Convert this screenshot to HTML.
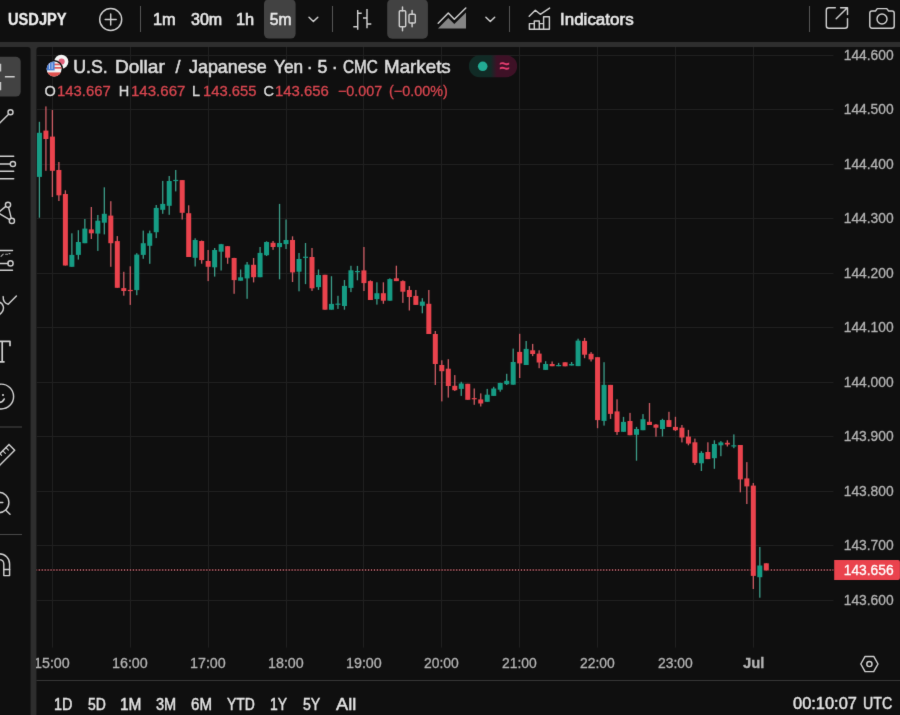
<!DOCTYPE html>
<html lang="en"><head><meta charset="utf-8"><title>USDJPY chart</title>
<style>
html,body{margin:0;padding:0;background:#0f0f0f;width:900px;height:715px;overflow:hidden;}
body{width:900px;height:715px;position:relative;overflow:hidden;font-family:"Liberation Sans", sans-serif;}
#root{position:absolute;left:0;top:0;width:900px;height:715px;overflow:hidden;}
#w{position:absolute;left:-8px;top:-8px;width:916px;height:731px;overflow:hidden;filter:url(#soft);background:#0f0f0f;}
#c{position:absolute;left:8px;top:8px;width:900px;height:715px;}
.t{position:absolute;white-space:pre;line-height:1;transform-origin:0 0;font-family:"Liberation Sans", sans-serif;-webkit-text-stroke:0.3px currentColor;}
</style></head>
<body>
<div id="root">
<svg width="0" height="0" style="position:absolute"><filter id="soft" x="0" y="0" width="100%" height="100%" color-interpolation-filters="sRGB"><feConvolveMatrix order="3" kernelMatrix="0.00741 0.07126 0.00741 0.07126 0.68530 0.07126 0.00741 0.07126 0.00741" edgeMode="duplicate" preserveAlpha="true"/></filter></svg>
<div id="w"><div id="c">
<svg width="900" height="715" viewBox="0 0 900 715" style="position:absolute;left:0;top:0;overflow:visible">
<rect x="-8" y="-8" width="916" height="731" fill="#2e2e2e"/>
<rect x="-8" y="-8" width="916" height="50" fill="#0f0f0f"/>
<path d="M-8 47.1H27.6a3 3 0 0 1 3 3V723H-8Z" fill="#0f0f0f"/>
<path d="M39.4 47.1H908V723H36.4V50.1a3 3 0 0 1 3-3Z" fill="#0f0f0f"/>
<rect x="264" y="-1" width="31.6" height="39.6" rx="5" fill="#424242"/>
<rect x="387.2" y="-1" width="40.7" height="39.8" rx="5" fill="#424242"/>
<rect x="-20" y="56.8" width="40.7" height="39.8" rx="5" fill="#424242"/>
<rect x="140" y="6" width="1" height="26" fill="#555555"/>
<rect x="332" y="6" width="1" height="26" fill="#555555"/>
<rect x="509" y="6" width="1" height="26" fill="#555555"/>
<rect x="809" y="6" width="1" height="26" fill="#555555"/>
<rect x="36.4" y="680" width="872" height="1" fill="#363636"/>
<rect x="-8" y="426.5" width="30" height="1" fill="#484848"/>
<rect x="-8" y="534" width="30" height="1" fill="#484848"/>
<rect x="36.4" y="55.00" width="797" height="1" fill="#202020"/>
<rect x="36.4" y="109.00" width="797" height="1" fill="#202020"/>
<rect x="36.4" y="164.00" width="797" height="1" fill="#202020"/>
<rect x="36.4" y="218.00" width="797" height="1" fill="#202020"/>
<rect x="36.4" y="273.00" width="797" height="1" fill="#202020"/>
<rect x="36.4" y="327.00" width="797" height="1" fill="#202020"/>
<rect x="36.4" y="382.00" width="797" height="1" fill="#202020"/>
<rect x="36.4" y="436.00" width="797" height="1" fill="#202020"/>
<rect x="36.4" y="491.00" width="797" height="1" fill="#202020"/>
<rect x="36.4" y="545.00" width="797" height="1" fill="#202020"/>
<rect x="36.4" y="600.00" width="797" height="1" fill="#202020"/>
<rect x="52.00" y="47" width="1" height="600.5" fill="#202020"/>
<rect x="130.00" y="47" width="1" height="600.5" fill="#202020"/>
<rect x="208.00" y="47" width="1" height="600.5" fill="#202020"/>
<rect x="286.00" y="47" width="1" height="600.5" fill="#202020"/>
<rect x="363.00" y="47" width="1" height="600.5" fill="#202020"/>
<rect x="441.00" y="47" width="1" height="600.5" fill="#202020"/>
<rect x="519.00" y="47" width="1" height="600.5" fill="#202020"/>
<rect x="597.00" y="47" width="1" height="600.5" fill="#202020"/>
<rect x="675.00" y="47" width="1" height="600.5" fill="#202020"/>
<rect x="753.00" y="47" width="1" height="600.5" fill="#202020"/>
<rect x="38.77" y="121.8" width="1.3" height="95.9" fill="#3c9c88"/>
<rect x="36.92" y="132.8" width="5.0" height="44.1" fill="#169c84"/>
<rect x="45.26" y="106.4" width="1.3" height="64.4" fill="#cc5c64"/>
<rect x="43.41" y="130.6" width="5.0" height="8.4" fill="#ea434d"/>
<rect x="51.75" y="110.0" width="1.3" height="87.0" fill="#cc5c64"/>
<rect x="49.90" y="136.6" width="5.0" height="34.2" fill="#ea434d"/>
<rect x="58.24" y="162.0" width="1.3" height="39.0" fill="#cc5c64"/>
<rect x="56.39" y="170.0" width="5.0" height="25.3" fill="#ea434d"/>
<rect x="64.73" y="190.3" width="1.3" height="75.2" fill="#cc5c64"/>
<rect x="62.88" y="194.0" width="5.0" height="71.5" fill="#ea434d"/>
<rect x="71.22" y="233.3" width="1.3" height="33.5" fill="#3c9c88"/>
<rect x="69.37" y="254.9" width="5.0" height="11.9" fill="#169c84"/>
<rect x="77.71" y="230.2" width="1.3" height="29.4" fill="#3c9c88"/>
<rect x="75.86" y="242.0" width="5.0" height="12.9" fill="#169c84"/>
<rect x="84.20" y="219.0" width="1.3" height="24.2" fill="#3c9c88"/>
<rect x="82.35" y="228.6" width="5.0" height="14.6" fill="#169c84"/>
<rect x="90.69" y="207.0" width="1.3" height="32.0" fill="#cc5c64"/>
<rect x="88.84" y="229.4" width="5.0" height="3.9" fill="#ea434d"/>
<rect x="97.18" y="215.0" width="1.3" height="35.9" fill="#3c9c88"/>
<rect x="95.33" y="220.7" width="5.0" height="12.9" fill="#169c84"/>
<rect x="103.67" y="187.3" width="1.3" height="47.1" fill="#3c9c88"/>
<rect x="101.82" y="213.8" width="5.0" height="8.9" fill="#169c84"/>
<rect x="110.16" y="201.2" width="1.3" height="65.6" fill="#cc5c64"/>
<rect x="108.31" y="215.6" width="5.0" height="27.6" fill="#ea434d"/>
<rect x="116.65" y="236.1" width="1.3" height="51.7" fill="#cc5c64"/>
<rect x="114.80" y="241.1" width="5.0" height="46.7" fill="#ea434d"/>
<rect x="123.14" y="271.8" width="1.3" height="23.9" fill="#cc5c64"/>
<rect x="121.29" y="288.1" width="5.0" height="2.9" fill="#ea434d"/>
<rect x="129.63" y="266.3" width="1.3" height="38.6" fill="#cc5c64"/>
<rect x="127.78" y="289.9" width="5.0" height="1.2" fill="#ea434d"/>
<rect x="136.12" y="253.2" width="1.3" height="42.0" fill="#3c9c88"/>
<rect x="134.27" y="254.6" width="5.0" height="35.5" fill="#169c84"/>
<rect x="142.61" y="230.6" width="1.3" height="28.2" fill="#3c9c88"/>
<rect x="140.76" y="243.2" width="5.0" height="11.7" fill="#169c84"/>
<rect x="149.10" y="230.6" width="1.3" height="33.2" fill="#3c9c88"/>
<rect x="147.25" y="233.3" width="5.0" height="12.5" fill="#169c84"/>
<rect x="155.59" y="205.0" width="1.3" height="33.1" fill="#3c9c88"/>
<rect x="153.74" y="207.9" width="5.0" height="24.3" fill="#169c84"/>
<rect x="162.08" y="180.9" width="1.3" height="32.9" fill="#3c9c88"/>
<rect x="160.23" y="203.9" width="5.0" height="5.9" fill="#169c84"/>
<rect x="168.57" y="176.0" width="1.3" height="38.8" fill="#3c9c88"/>
<rect x="166.72" y="181.0" width="5.0" height="24.8" fill="#169c84"/>
<rect x="175.06" y="170.0" width="1.3" height="21.4" fill="#3c9c88"/>
<rect x="173.21" y="179.9" width="5.0" height="1.2" fill="#169c84"/>
<rect x="181.55" y="180.1" width="1.3" height="39.4" fill="#cc5c64"/>
<rect x="179.70" y="180.1" width="5.0" height="32.7" fill="#ea434d"/>
<rect x="188.04" y="205.3" width="1.3" height="51.7" fill="#cc5c64"/>
<rect x="186.19" y="213.2" width="5.0" height="43.8" fill="#ea434d"/>
<rect x="194.53" y="238.3" width="1.3" height="28.2" fill="#3c9c88"/>
<rect x="192.68" y="240.0" width="5.0" height="17.8" fill="#169c84"/>
<rect x="201.02" y="240.5" width="1.3" height="23.2" fill="#cc5c64"/>
<rect x="199.17" y="241.0" width="5.0" height="19.1" fill="#ea434d"/>
<rect x="207.51" y="250.0" width="1.3" height="31.1" fill="#cc5c64"/>
<rect x="205.66" y="261.0" width="5.0" height="5.8" fill="#ea434d"/>
<rect x="214.00" y="248.0" width="1.3" height="28.6" fill="#3c9c88"/>
<rect x="212.15" y="250.0" width="5.0" height="17.3" fill="#169c84"/>
<rect x="220.49" y="243.9" width="1.3" height="26.6" fill="#3c9c88"/>
<rect x="218.64" y="244.2" width="5.0" height="7.5" fill="#169c84"/>
<rect x="226.98" y="246.0" width="1.3" height="17.8" fill="#cc5c64"/>
<rect x="225.13" y="246.2" width="5.0" height="11.5" fill="#ea434d"/>
<rect x="233.47" y="257.8" width="1.3" height="36.0" fill="#cc5c64"/>
<rect x="231.62" y="258.0" width="5.0" height="22.1" fill="#ea434d"/>
<rect x="239.96" y="269.5" width="1.3" height="11.2" fill="#3c9c88"/>
<rect x="238.11" y="277.3" width="5.0" height="3.4" fill="#169c84"/>
<rect x="246.45" y="262.0" width="1.3" height="36.8" fill="#3c9c88"/>
<rect x="244.60" y="264.6" width="5.0" height="13.8" fill="#169c84"/>
<rect x="252.94" y="258.0" width="1.3" height="24.4" fill="#cc5c64"/>
<rect x="251.09" y="264.8" width="5.0" height="12.4" fill="#ea434d"/>
<rect x="259.43" y="247.0" width="1.3" height="30.2" fill="#3c9c88"/>
<rect x="257.58" y="252.9" width="5.0" height="24.3" fill="#169c84"/>
<rect x="265.92" y="241.3" width="1.3" height="14.7" fill="#3c9c88"/>
<rect x="264.07" y="242.0" width="5.0" height="13.2" fill="#169c84"/>
<rect x="272.41" y="241.0" width="1.3" height="8.8" fill="#cc5c64"/>
<rect x="270.56" y="242.8" width="5.0" height="4.2" fill="#ea434d"/>
<rect x="278.90" y="203.9" width="1.3" height="75.4" fill="#3c9c88"/>
<rect x="277.05" y="243.0" width="5.0" height="4.1" fill="#169c84"/>
<rect x="285.39" y="219.5" width="1.3" height="29.5" fill="#3c9c88"/>
<rect x="283.54" y="240.0" width="5.0" height="4.1" fill="#169c84"/>
<rect x="291.88" y="236.3" width="1.3" height="45.7" fill="#cc5c64"/>
<rect x="290.03" y="240.0" width="5.0" height="32.4" fill="#ea434d"/>
<rect x="298.37" y="253.0" width="1.3" height="38.3" fill="#3c9c88"/>
<rect x="296.52" y="259.0" width="5.0" height="12.7" fill="#169c84"/>
<rect x="304.86" y="243.0" width="1.3" height="41.1" fill="#3c9c88"/>
<rect x="303.01" y="256.7" width="5.0" height="1.2" fill="#169c84"/>
<rect x="311.35" y="248.0" width="1.3" height="42.9" fill="#cc5c64"/>
<rect x="309.50" y="257.0" width="5.0" height="31.3" fill="#ea434d"/>
<rect x="317.84" y="269.5" width="1.3" height="20.4" fill="#3c9c88"/>
<rect x="315.99" y="275.0" width="5.0" height="12.1" fill="#169c84"/>
<rect x="324.33" y="274.8" width="1.3" height="34.9" fill="#cc5c64"/>
<rect x="322.48" y="274.8" width="5.0" height="34.9" fill="#ea434d"/>
<rect x="330.82" y="276.2" width="1.3" height="33.5" fill="#3c9c88"/>
<rect x="328.97" y="303.9" width="5.0" height="5.8" fill="#169c84"/>
<rect x="337.31" y="295.8" width="1.3" height="13.1" fill="#3c9c88"/>
<rect x="335.46" y="303.6" width="5.0" height="1.2" fill="#169c84"/>
<rect x="343.80" y="280.0" width="1.3" height="29.7" fill="#3c9c88"/>
<rect x="341.95" y="285.9" width="5.0" height="20.1" fill="#169c84"/>
<rect x="350.29" y="265.8" width="1.3" height="26.3" fill="#3c9c88"/>
<rect x="348.44" y="270.3" width="5.0" height="17.6" fill="#169c84"/>
<rect x="356.78" y="265.9" width="1.3" height="14.4" fill="#3c9c88"/>
<rect x="354.93" y="271.0" width="5.0" height="1.2" fill="#169c84"/>
<rect x="363.27" y="247.0" width="1.3" height="44.0" fill="#cc5c64"/>
<rect x="361.42" y="270.4" width="5.0" height="12.7" fill="#ea434d"/>
<rect x="369.76" y="280.3" width="1.3" height="19.7" fill="#cc5c64"/>
<rect x="367.91" y="281.1" width="5.0" height="18.9" fill="#ea434d"/>
<rect x="376.25" y="282.3" width="1.3" height="22.3" fill="#3c9c88"/>
<rect x="374.40" y="293.2" width="5.0" height="5.9" fill="#169c84"/>
<rect x="382.74" y="282.3" width="1.3" height="21.5" fill="#cc5c64"/>
<rect x="380.89" y="293.2" width="5.0" height="7.5" fill="#ea434d"/>
<rect x="389.23" y="278.3" width="1.3" height="22.4" fill="#3c9c88"/>
<rect x="387.38" y="279.1" width="5.0" height="21.6" fill="#169c84"/>
<rect x="395.72" y="265.7" width="1.3" height="15.4" fill="#cc5c64"/>
<rect x="393.87" y="278.3" width="5.0" height="2.8" fill="#ea434d"/>
<rect x="402.21" y="280.3" width="1.3" height="22.6" fill="#cc5c64"/>
<rect x="400.36" y="281.1" width="5.0" height="10.6" fill="#ea434d"/>
<rect x="408.70" y="286.1" width="1.3" height="24.4" fill="#cc5c64"/>
<rect x="406.85" y="290.0" width="5.0" height="7.0" fill="#ea434d"/>
<rect x="415.19" y="290.0" width="1.3" height="14.9" fill="#cc5c64"/>
<rect x="413.34" y="295.9" width="5.0" height="9.0" fill="#ea434d"/>
<rect x="421.68" y="298.2" width="1.3" height="15.1" fill="#3c9c88"/>
<rect x="419.83" y="301.6" width="5.0" height="4.2" fill="#169c84"/>
<rect x="428.17" y="290.0" width="1.3" height="44.0" fill="#cc5c64"/>
<rect x="426.32" y="303.8" width="5.0" height="30.2" fill="#ea434d"/>
<rect x="434.66" y="331.0" width="1.3" height="54.0" fill="#cc5c64"/>
<rect x="432.81" y="334.0" width="5.0" height="30.0" fill="#ea434d"/>
<rect x="441.15" y="360.3" width="1.3" height="41.1" fill="#cc5c64"/>
<rect x="439.30" y="365.0" width="5.0" height="6.2" fill="#ea434d"/>
<rect x="447.64" y="359.2" width="1.3" height="38.4" fill="#cc5c64"/>
<rect x="445.79" y="368.7" width="5.0" height="17.3" fill="#ea434d"/>
<rect x="454.13" y="375.1" width="1.3" height="15.9" fill="#cc5c64"/>
<rect x="452.28" y="385.8" width="5.0" height="4.4" fill="#ea434d"/>
<rect x="460.62" y="381.8" width="1.3" height="14.1" fill="#3c9c88"/>
<rect x="458.77" y="383.5" width="5.0" height="5.4" fill="#169c84"/>
<rect x="467.11" y="383.8" width="1.3" height="16.0" fill="#cc5c64"/>
<rect x="465.26" y="383.8" width="5.0" height="16.0" fill="#ea434d"/>
<rect x="473.60" y="388.5" width="1.3" height="16.3" fill="#cc5c64"/>
<rect x="471.75" y="398.1" width="5.0" height="1.2" fill="#ea434d"/>
<rect x="480.09" y="393.4" width="1.3" height="13.1" fill="#cc5c64"/>
<rect x="478.24" y="399.4" width="5.0" height="4.1" fill="#ea434d"/>
<rect x="486.58" y="388.9" width="1.3" height="12.9" fill="#3c9c88"/>
<rect x="484.73" y="394.7" width="5.0" height="7.1" fill="#169c84"/>
<rect x="493.07" y="386.8" width="1.3" height="9.1" fill="#3c9c88"/>
<rect x="491.22" y="388.5" width="5.0" height="7.4" fill="#169c84"/>
<rect x="499.56" y="382.7" width="1.3" height="9.0" fill="#3c9c88"/>
<rect x="497.71" y="383.0" width="5.0" height="6.7" fill="#169c84"/>
<rect x="506.05" y="373.8" width="1.3" height="11.2" fill="#3c9c88"/>
<rect x="504.20" y="380.8" width="5.0" height="3.4" fill="#169c84"/>
<rect x="512.54" y="348.6" width="1.3" height="36.1" fill="#3c9c88"/>
<rect x="510.69" y="362.0" width="5.0" height="22.7" fill="#169c84"/>
<rect x="519.03" y="333.8" width="1.3" height="44.2" fill="#cc5c64"/>
<rect x="517.18" y="351.9" width="5.0" height="11.5" fill="#ea434d"/>
<rect x="525.52" y="341.0" width="1.3" height="24.0" fill="#3c9c88"/>
<rect x="523.67" y="348.9" width="5.0" height="16.1" fill="#169c84"/>
<rect x="532.01" y="343.9" width="1.3" height="12.2" fill="#cc5c64"/>
<rect x="530.16" y="350.3" width="5.0" height="3.7" fill="#ea434d"/>
<rect x="538.50" y="350.3" width="1.3" height="17.9" fill="#cc5c64"/>
<rect x="536.65" y="353.6" width="5.0" height="8.9" fill="#ea434d"/>
<rect x="544.99" y="361.2" width="1.3" height="8.7" fill="#3c9c88"/>
<rect x="543.14" y="364.0" width="5.0" height="5.9" fill="#169c84"/>
<rect x="551.48" y="361.5" width="1.3" height="4.7" fill="#cc5c64"/>
<rect x="549.63" y="364.0" width="5.0" height="2.2" fill="#ea434d"/>
<rect x="557.97" y="362.9" width="1.3" height="3.3" fill="#3c9c88"/>
<rect x="556.12" y="365.0" width="5.0" height="1.2" fill="#169c84"/>
<rect x="564.46" y="362.3" width="1.3" height="4.0" fill="#cc5c64"/>
<rect x="562.61" y="362.3" width="5.0" height="4.0" fill="#ea434d"/>
<rect x="570.95" y="362.0" width="1.3" height="3.5" fill="#3c9c88"/>
<rect x="569.10" y="364.0" width="5.0" height="1.5" fill="#169c84"/>
<rect x="577.44" y="338.7" width="1.3" height="27.4" fill="#3c9c88"/>
<rect x="575.59" y="340.6" width="5.0" height="25.5" fill="#169c84"/>
<rect x="583.93" y="337.9" width="1.3" height="20.3" fill="#cc5c64"/>
<rect x="582.08" y="340.9" width="5.0" height="13.8" fill="#ea434d"/>
<rect x="590.42" y="352.1" width="1.3" height="9.4" fill="#cc5c64"/>
<rect x="588.57" y="353.8" width="5.0" height="5.6" fill="#ea434d"/>
<rect x="596.91" y="357.2" width="1.3" height="71.0" fill="#cc5c64"/>
<rect x="595.06" y="357.2" width="5.0" height="62.9" fill="#ea434d"/>
<rect x="603.40" y="362.2" width="1.3" height="63.4" fill="#3c9c88"/>
<rect x="601.55" y="384.9" width="5.0" height="36.0" fill="#169c84"/>
<rect x="609.89" y="384.9" width="1.3" height="34.0" fill="#cc5c64"/>
<rect x="608.04" y="384.9" width="5.0" height="29.0" fill="#ea434d"/>
<rect x="616.38" y="399.3" width="1.3" height="35.6" fill="#cc5c64"/>
<rect x="614.53" y="411.4" width="5.0" height="20.6" fill="#ea434d"/>
<rect x="622.87" y="416.9" width="1.3" height="14.9" fill="#3c9c88"/>
<rect x="621.02" y="421.9" width="5.0" height="9.9" fill="#169c84"/>
<rect x="629.36" y="412.9" width="1.3" height="22.3" fill="#cc5c64"/>
<rect x="627.51" y="421.0" width="5.0" height="14.2" fill="#ea434d"/>
<rect x="635.85" y="426.9" width="1.3" height="33.8" fill="#3c9c88"/>
<rect x="634.00" y="429.0" width="5.0" height="5.8" fill="#169c84"/>
<rect x="642.34" y="414.1" width="1.3" height="16.1" fill="#3c9c88"/>
<rect x="640.49" y="419.2" width="5.0" height="11.0" fill="#169c84"/>
<rect x="648.83" y="403.0" width="1.3" height="22.0" fill="#cc5c64"/>
<rect x="646.98" y="421.8" width="5.0" height="3.2" fill="#ea434d"/>
<rect x="655.32" y="424.0" width="1.3" height="12.7" fill="#cc5c64"/>
<rect x="653.47" y="424.6" width="5.0" height="3.1" fill="#ea434d"/>
<rect x="661.81" y="418.8" width="1.3" height="17.7" fill="#3c9c88"/>
<rect x="659.96" y="420.0" width="5.0" height="9.0" fill="#169c84"/>
<rect x="668.30" y="411.8" width="1.3" height="15.1" fill="#cc5c64"/>
<rect x="666.45" y="420.1" width="5.0" height="6.8" fill="#ea434d"/>
<rect x="674.79" y="416.8" width="1.3" height="14.2" fill="#cc5c64"/>
<rect x="672.94" y="426.9" width="5.0" height="3.3" fill="#ea434d"/>
<rect x="681.28" y="425.0" width="1.3" height="17.4" fill="#cc5c64"/>
<rect x="679.43" y="427.7" width="5.0" height="9.8" fill="#ea434d"/>
<rect x="687.77" y="429.9" width="1.3" height="15.4" fill="#cc5c64"/>
<rect x="685.92" y="436.6" width="5.0" height="7.0" fill="#ea434d"/>
<rect x="694.26" y="438.6" width="1.3" height="26.3" fill="#cc5c64"/>
<rect x="692.41" y="442.3" width="5.0" height="20.6" fill="#ea434d"/>
<rect x="700.75" y="451.2" width="1.3" height="19.8" fill="#3c9c88"/>
<rect x="698.90" y="452.9" width="5.0" height="10.4" fill="#169c84"/>
<rect x="707.24" y="442.3" width="1.3" height="16.8" fill="#cc5c64"/>
<rect x="705.39" y="452.0" width="5.0" height="7.1" fill="#ea434d"/>
<rect x="713.73" y="440.3" width="1.3" height="28.5" fill="#3c9c88"/>
<rect x="711.88" y="444.0" width="5.0" height="14.2" fill="#169c84"/>
<rect x="720.22" y="441.1" width="1.3" height="15.1" fill="#3c9c88"/>
<rect x="718.37" y="442.4" width="5.0" height="2.9" fill="#169c84"/>
<rect x="726.71" y="440.3" width="1.3" height="6.2" fill="#cc5c64"/>
<rect x="724.86" y="442.8" width="5.0" height="1.7" fill="#ea434d"/>
<rect x="733.20" y="434.4" width="1.3" height="13.8" fill="#3c9c88"/>
<rect x="731.35" y="445.3" width="5.0" height="1.2" fill="#169c84"/>
<rect x="739.69" y="445.0" width="1.3" height="47.3" fill="#cc5c64"/>
<rect x="737.84" y="445.0" width="5.0" height="34.4" fill="#ea434d"/>
<rect x="746.18" y="462.1" width="1.3" height="41.9" fill="#cc5c64"/>
<rect x="744.33" y="478.4" width="5.0" height="8.0" fill="#ea434d"/>
<rect x="752.67" y="483.0" width="1.3" height="106.0" fill="#cc5c64"/>
<rect x="750.82" y="485.6" width="5.0" height="90.3" fill="#ea434d"/>
<rect x="759.16" y="547.0" width="1.3" height="50.7" fill="#3c9c88"/>
<rect x="757.31" y="565.5" width="5.0" height="11.7" fill="#169c84"/>
<rect x="765.65" y="563.3" width="1.3" height="7.2" fill="#cc5c64"/>
<rect x="763.80" y="563.3" width="5.0" height="7.2" fill="#ea434d"/>
<path d="M834.2 559.9H898a2 2 0 0 1 2 2V578.1a2 2 0 0 1-2 2H834.2Z" fill="#ea434d"/>
<g fill="none" stroke="#cfcfcf" stroke-width="1.45" stroke-linecap="round" stroke-linejoin="round">
<!-- circle plus -->
<circle cx="110.7" cy="19.5" r="11"/>
<path d="M105.2 19.5H116.2M110.7 14V25"/>
<!-- chevrons -->
<path d="M309 17.2L313.4 21.5L317.8 17.2"/>
<path d="M485.9 17.2L490.3 21.5L494.7 17.2"/>
<!-- bars -->
<path d="M357.7 10V29.7M357.7 13.3H361.7M353.3 26.7H357.7M367 9V28.3M363 18H367M367 24H371.3" stroke-linecap="butt"/>
<!-- candles -->
<rect x="399.3" y="10.7" width="6.4" height="16" rx="1"/>
<path d="M402.5 6.9V10.7M402.5 26.7V30.8"/>
<rect x="409" y="14.3" width="6.3" height="8.7" rx="1"/>
<path d="M412.1 10.5V14.3M412.1 23V26.8"/>
<!-- area -->
<path d="M438.2 23.2L448.3 13.1L454.3 19.2L465.8 8.1"/>
<path d="M438 28.6L448.3 18.1L454.3 23.9L466 12.6V28.6Z" fill="#9a9a9a" stroke="none" opacity="0.85"/>
<!-- indicators -->
<path d="M529.2 16.3L535.3 10.2L540.3 14.3L549.6 8.1"/>
<path d="M529.4 29.2V23.6H534.3V20.9H539.3V23.6H543.6V16.8H549.4V29.2ZM534.3 23.6V29.2M539.3 23.6V29.2M543.6 23.6V29.2"/>
<!-- popup -->
<path d="M835.3 7.7H828.8a2.5 2.5 0 0 0-2.5 2.5V25.8a2.5 2.5 0 0 0 2.5 2.5H845a2.5 2.5 0 0 0 2.5-2.5V18.6"/>
<path d="M836.2 18.8L847.3 7.8M840.6 7.7H847.5V14.4"/>
<!-- camera -->
<path d="M872 11H875.5L877.3 8.6H886.8L888.6 11H892a2.2 2.2 0 0 1 2.2 2.2V26a2.2 2.2 0 0 1-2.2 2.2H872a2.2 2.2 0 0 1-2.2-2.2V13.2A2.2 2.2 0 0 1 872 11Z"/>
<circle cx="882" cy="19" r="5"/>
<!-- settings hexagon -->
<path d="M860.8 664L865.1 656.4H873.7L878 664L873.7 671.6H865.1Z"/>
<circle cx="869.4" cy="664" r="2.6"/>
<!-- left toolbar: crosshair -->
<path d="M4.9 76.8H14.7M0.4 63.8V71.5M0.4 82V90.3" stroke-width="1.6" stroke-linecap="butt"/>
<!-- trend line -->
<circle cx="10.5" cy="112.3" r="2.5"/>
<path d="M8.6 114.2L-6 128.8"/>
<!-- fib -->
<path d="M-6 156.3H13.7M-6 164H10.3M-6 171.3H13.7M-6 178.7H13.7"/>
<circle cx="12.9" cy="164" r="2.6"/>
<!-- pattern -->
<circle cx="8" cy="204.8" r="2.6"/>
<circle cx="11.9" cy="220.9" r="2.6"/>
<path d="M8.6 207.4L11.3 218.3M5.8 206.4L-1 212M9.6 219.6L-1 213.5"/>
<!-- forecast -->
<path d="M-6 250.5H12.5M-6 263.4H8M-6 270.3H12.5"/>
<path d="M1 256.4L3.2 254.2M5.6 254.2L7.6 254.2" stroke-width="1.1" opacity="0.8"/>
<path d="M9 253.6L10 253.6" stroke-width="1.1" opacity="0.8"/>
<circle cx="10.5" cy="263.4" r="2.6"/>
<!-- brush -->
<path d="M3.2 296.6C3 300.5 5 303.4 8.2 304.2L16.4 296"/>
<path d="M-1 302C3.5 303.5 5 308.5 1.6 312.6L-1 315"/>
<!-- text T -->
<path d="M-6 341.4H10V346.3M2.2 341.4V361.8M-6 361.8H4.6" stroke-width="1.7" stroke-linecap="butt"/>
<!-- smiley -->
<circle cx="1.2" cy="396.5" r="12.4"/>
<circle cx="3" cy="395" r="1.1" fill="#cfcfcf" stroke="none"/>
<path d="M-1 402.6C1.5 402.4 3.4 401 4.3 398.9"/>
<!-- ruler -->
<path d="M9 444.6L14.7 450.2L-6 471M9 444.6L-6 459.6"/>
<path d="M2.8 450.8L5.4 453.4M5.9 447.7L8.4 450.2M0 453.7L1.6 455.3" stroke-width="1.1"/>
<!-- zoom -->
<circle cx="-1.3" cy="502.5" r="10.2"/>
<path d="M5.6 510L10 514.2M-6 502.5H2.8"/>
<!-- magnet -->
<path d="M-1 553.8C5.2 553.8 9.6 558 9.6 564V575.6H3.8V564C3.8 561.4 2 559.6 -1 559.6"/>
<path d="M3.8 569.4H9.6"/>
</g>
<!-- flags -->
<g>
<circle cx="61.3" cy="61.8" r="7.1" fill="#f4f4f4"/>
<circle cx="61.6" cy="61.5" r="3.1" fill="#e0607a"/>
<circle cx="54.1" cy="69" r="9" fill="#0f0f0f"/>
<clipPath id="usc"><circle cx="54.1" cy="69" r="7.5"/></clipPath>
<g clip-path="url(#usc)">
<rect x="46" y="61" width="17" height="17" fill="#f2f2f2"/>
<rect x="46" y="63.6" width="17" height="1.7" fill="#e05a5a"/>
<rect x="46" y="67" width="17" height="1.7" fill="#e05a5a"/>
<rect x="46" y="72.4" width="17" height="5" fill="#e0524f"/>
<rect x="46" y="61" width="8.6" height="9.4" fill="#4a7fd6"/>
<rect x="49" y="62.5" width="1" height="6.5" fill="#cfe0f7" opacity="0.8"/>
<rect x="51.6" y="62.5" width="1" height="6.5" fill="#cfe0f7" opacity="0.8"/>
</g>
</g>
<!-- status pill -->
<g>
<clipPath id="pill"><rect x="468.8" y="55.2" width="48.4" height="22" rx="11"/></clipPath>
<g clip-path="url(#pill)">
<linearGradient id="pg" x1="0" x2="1" y1="0" y2="0"><stop offset="0" stop-color="#112b26"/><stop offset="0.45" stop-color="#112b26"/><stop offset="0.58" stop-color="#3e1126"/><stop offset="1" stop-color="#3e1126"/></linearGradient>
<rect x="468.8" y="55" width="48.4" height="23" fill="url(#pg)"/>
</g>
<circle cx="482.7" cy="66.3" r="4.8" fill="#22ab94"/>
</g>

</svg>
<div class="t" style="left:8.14px;top:11.99px;font-size:15.6px;color:#ececec;transform:scaleX(0.9384);font-weight:700;-webkit-text-stroke-width:0.3px">USDJPY</div>
<div class="t" style="left:153.47px;top:11.99px;font-size:15.6px;color:#e6e6e6;transform:scaleX(1.0458);-webkit-text-stroke-width:0.6px">1m</div>
<div class="t" style="left:190.91px;top:11.99px;font-size:15.6px;color:#e6e6e6;transform:scaleX(1.0286);-webkit-text-stroke-width:0.6px">30m</div>
<div class="t" style="left:236.16px;top:11.99px;font-size:15.6px;color:#e6e6e6;transform:scaleX(1.0509);-webkit-text-stroke-width:0.6px">1h</div>
<div class="t" style="left:269.80px;top:11.99px;font-size:15.6px;color:#e6e6e6;-webkit-text-stroke-width:0.6px">5m</div>
<div class="t" style="left:559.84px;top:11.99px;font-size:15.6px;color:#e6e6e6;transform:scaleX(1.0889);-webkit-text-stroke-width:0.6px">Indicators</div>
<div class="t" style="left:73.17px;top:58.63px;font-size:17.8px;color:#dbdbdb;-webkit-text-stroke-width:0.55px">U.S.</div>
<div class="t" style="left:115.12px;top:58.63px;font-size:17.8px;color:#dbdbdb;transform:scaleX(1.0723);-webkit-text-stroke-width:0.55px">Dollar</div>
<div class="t" style="left:175.50px;top:58.63px;font-size:17.8px;color:#dbdbdb;-webkit-text-stroke-width:0.55px">/</div>
<div class="t" style="left:188.68px;top:58.63px;font-size:17.8px;color:#dbdbdb;transform:scaleX(1.0067);-webkit-text-stroke-width:0.55px">Japanese</div>
<div class="t" style="left:273.67px;top:58.63px;font-size:17.8px;color:#dbdbdb;transform:scaleX(0.9674);-webkit-text-stroke-width:0.55px">Yen</div>
<div class="t" style="left:306.80px;top:58.63px;font-size:17.8px;color:#dbdbdb;-webkit-text-stroke-width:0.55px">·</div>
<div class="t" style="left:317.40px;top:58.63px;font-size:17.8px;color:#dbdbdb;-webkit-text-stroke-width:0.55px">5</div>
<div class="t" style="left:331.70px;top:58.63px;font-size:17.8px;color:#dbdbdb;-webkit-text-stroke-width:0.55px">·</div>
<div class="t" style="left:342.94px;top:58.63px;font-size:17.8px;color:#dbdbdb;transform:scaleX(0.8616);-webkit-text-stroke-width:0.55px">CMC</div>
<div class="t" style="left:384.03px;top:58.63px;font-size:17.8px;color:#dbdbdb;transform:scaleX(1.0558);-webkit-text-stroke-width:0.55px">Markets</div>
<div class="t" style="left:44.40px;top:84.03px;font-size:14.5px;color:#dbdbdb">O</div>
<div class="t" style="left:57.03px;top:84.03px;font-size:14.5px;color:#d8464f;transform:scaleX(1.0242)">143.667</div>
<div class="t" style="left:118.85px;top:84.03px;font-size:14.5px;color:#dbdbdb">H</div>
<div class="t" style="left:130.72px;top:84.03px;font-size:14.5px;color:#d8464f;transform:scaleX(1.0378)">143.667</div>
<div class="t" style="left:192.10px;top:84.03px;font-size:14.5px;color:#dbdbdb">L</div>
<div class="t" style="left:202.53px;top:84.03px;font-size:14.5px;color:#d8464f;transform:scaleX(1.0184)">143.655</div>
<div class="t" style="left:263.45px;top:84.03px;font-size:14.5px;color:#dbdbdb">C</div>
<div class="t" style="left:274.93px;top:84.03px;font-size:14.5px;color:#d8464f;transform:scaleX(1.0281)">143.656</div>
<div class="t" style="left:337.95px;top:84.03px;font-size:14.5px;color:#d8464f;transform:scaleX(0.9869)">−0.007</div>
<div class="t" style="left:388.75px;top:84.03px;font-size:14.5px;color:#d8464f;transform:scaleX(0.9913)">(−0.00%)</div>
<div class="t" style="left:499.30px;top:56.94px;font-size:18.5px;color:#e23c6e;font-weight:700;-webkit-text-stroke-width:0px">≈</div>
<div class="t" style="left:843.75px;top:48.92px;font-size:13.8px;color:#b4b4b4">144.600</div>
<div class="t" style="left:843.75px;top:103.41px;font-size:13.8px;color:#b4b4b4">144.500</div>
<div class="t" style="left:843.75px;top:157.90px;font-size:13.8px;color:#b4b4b4">144.400</div>
<div class="t" style="left:843.75px;top:212.39px;font-size:13.8px;color:#b4b4b4">144.300</div>
<div class="t" style="left:843.75px;top:266.88px;font-size:13.8px;color:#b4b4b4">144.200</div>
<div class="t" style="left:843.75px;top:321.37px;font-size:13.8px;color:#b4b4b4">144.100</div>
<div class="t" style="left:843.75px;top:375.86px;font-size:13.8px;color:#b4b4b4">144.000</div>
<div class="t" style="left:843.75px;top:430.35px;font-size:13.8px;color:#b4b4b4">143.900</div>
<div class="t" style="left:843.75px;top:484.84px;font-size:13.8px;color:#b4b4b4">143.800</div>
<div class="t" style="left:843.75px;top:539.33px;font-size:13.8px;color:#b4b4b4">143.700</div>
<div class="t" style="left:843.75px;top:593.82px;font-size:13.8px;color:#b4b4b4">143.600</div>
<div class="t" style="left:843.75px;top:563.62px;font-size:13.8px;color:#ffffff">143.656</div>
<div class="t" style="left:34.06px;top:656.33px;font-size:14.5px;color:#b4b4b4;transform:scaleX(0.9853)">15:00</div>
<div class="t" style="left:111.94px;top:656.33px;font-size:14.5px;color:#b4b4b4;transform:scaleX(0.9853)">16:00</div>
<div class="t" style="left:189.82px;top:656.33px;font-size:14.5px;color:#b4b4b4;transform:scaleX(0.9853)">17:00</div>
<div class="t" style="left:267.70px;top:656.33px;font-size:14.5px;color:#b4b4b4;transform:scaleX(0.9853)">18:00</div>
<div class="t" style="left:345.58px;top:656.33px;font-size:14.5px;color:#b4b4b4;transform:scaleX(0.9853)">19:00</div>
<div class="t" style="left:424.44px;top:656.33px;font-size:14.5px;color:#b4b4b4;transform:scaleX(0.9583)">20:00</div>
<div class="t" style="left:502.32px;top:656.33px;font-size:14.5px;color:#b4b4b4;transform:scaleX(0.9583)">21:00</div>
<div class="t" style="left:580.20px;top:656.33px;font-size:14.5px;color:#b4b4b4;transform:scaleX(0.9583)">22:00</div>
<div class="t" style="left:658.08px;top:656.33px;font-size:14.5px;color:#b4b4b4;transform:scaleX(0.9583)">23:00</div>
<div class="t" style="left:742.85px;top:656.33px;font-size:14.5px;color:#b4b4b4;transform:scaleX(1.0237);font-weight:700">Jul</div>
<div class="t" style="left:53.62px;top:695.93px;font-size:16.5px;color:#e2e2e2;transform:scaleX(0.8727);-webkit-text-stroke-width:0.45px">1D</div>
<div class="t" style="left:87.89px;top:695.93px;font-size:16.5px;color:#e2e2e2;transform:scaleX(0.8462);-webkit-text-stroke-width:0.45px">5D</div>
<div class="t" style="left:119.97px;top:695.93px;font-size:16.5px;color:#e2e2e2;transform:scaleX(0.9387);-webkit-text-stroke-width:0.45px">1M</div>
<div class="t" style="left:156.20px;top:695.93px;font-size:16.5px;color:#e2e2e2;transform:scaleX(0.8839);-webkit-text-stroke-width:0.45px">3M</div>
<div class="t" style="left:191.21px;top:695.93px;font-size:16.5px;color:#e2e2e2;transform:scaleX(0.9149);-webkit-text-stroke-width:0.45px">6M</div>
<div class="t" style="left:226.89px;top:695.93px;font-size:16.5px;color:#e2e2e2;transform:scaleX(0.8439);-webkit-text-stroke-width:0.45px">YTD</div>
<div class="t" style="left:270.04px;top:695.93px;font-size:16.5px;color:#e2e2e2;transform:scaleX(0.8458);-webkit-text-stroke-width:0.45px">1Y</div>
<div class="t" style="left:303.49px;top:695.93px;font-size:16.5px;color:#e2e2e2;transform:scaleX(0.8581);-webkit-text-stroke-width:0.45px">5Y</div>
<div class="t" style="left:336.25px;top:695.93px;font-size:16.5px;color:#e2e2e2;transform:scaleX(1.1037);-webkit-text-stroke-width:0.45px">All</div>
<div class="t" style="left:792.52px;top:695.03px;font-size:16.5px;color:#e2e2e2;transform:scaleX(0.9953);-webkit-text-stroke-width:0.45px">00:10:07</div>
<div class="t" style="left:862.83px;top:695.03px;font-size:16.5px;color:#e2e2e2;transform:scaleX(0.8611);-webkit-text-stroke-width:0.45px">UTC</div>
<div style="position:absolute;left:31px;top:647px;width:5px;height:76px;background:#2e2e2e"></div>
</div></div>
<svg width="900" height="715" viewBox="0 0 900 715" style="position:absolute;left:0;top:0">
<clipPath id="pl"><rect x="36.6" y="560" width="713.9" height="20"/><rect x="768.9" y="560" width="64.7" height="20"/></clipPath>
<g clip-path="url(#pl)">
<line x1="35.8" x2="834" y1="570" y2="570" stroke="#3e1317" stroke-width="1.5"/>
<line x1="35.8" x2="834" y1="570" y2="570" stroke="#c58e94" stroke-width="1.2" stroke-dasharray="1.1 1.84"/>
</g>
</svg>
</div>
</body></html>
